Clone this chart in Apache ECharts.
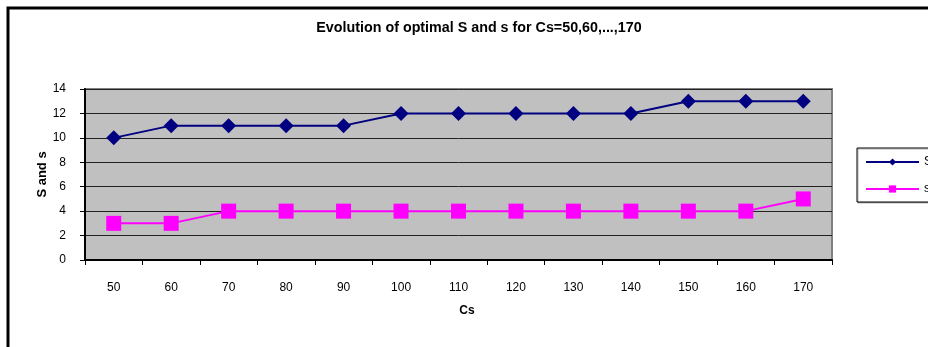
<!DOCTYPE html>
<html>
<head>
<meta charset="utf-8">
<script src="https://cdn.jsdelivr.net/npm/echarts@6/dist/echarts.min.js"></script>
<style>
  html, body { margin: 0; padding: 0; background: #fff; }
  #chart { width: 928px; height: 347px; }
</style>
</head>
<body>
<div id="chart"></div>
<script>
// Shipping cost values (Cs) and the optimal (s, S) policy levels
const categories = ['50', '60', '70', '80', '90', '100', '110', '120', '130', '140', '150', '160', '170'];
const bigS = [10, 11, 11, 11, 11, 12, 12, 12, 12, 12, 13, 13, 13];
const smallS = [3, 3, 4, 4, 4, 4, 4, 4, 4, 4, 4, 4, 5];

const font = '"Liberation Sans", Arial, sans-serif';
const chart = echarts.init(document.getElementById('chart'), null, { renderer: 'canvas' });

chart.setOption({
  animation: false,
  backgroundColor: '#ffffff',
  textStyle: { fontFamily: font },
  title: {
    text: 'Evolution of optimal S and s for Cs=50,60,...,170',
    left: 474,
    top: 16,
    textAlign: 'center',
    textStyle: { fontFamily: font, fontSize: 14.3, fontWeight: 'bold', color: '#000' }
  },
  graphic: [{
    type: 'rect',
    shape: { x: 8, y: 8, width: 1000, height: 1000 },
    style: { fill: 'none', stroke: '#000', lineWidth: 3 },
    z: 100
  }],
  legend: {
    orient: 'vertical',
    left: 857,
    top: 148,
    padding: [8, 40, 7, 8],
    itemWidth: 53,
    itemHeight: 9,
    itemGap: 15,
    backgroundColor: '#ffffff',
    borderColor: '#000',
    borderWidth: 1,
    shadowColor: 'rgba(0,0,0,0.3)',
    shadowOffsetX: 1,
    shadowOffsetY: 1,
    textStyle: { fontFamily: font, fontSize: 12, color: '#000' },
    data: ['S', 's']
  },
  grid: {
    left: 85,
    top: 89,
    right: 96,
    bottom: 87,
    show: true,
    backgroundColor: '#c0c0c0',
    borderColor: '#808080',
    borderWidth: 2
  },
  xAxis: {
    type: 'category',
    data: categories,
    boundaryGap: true,
    name: 'Cs',
    nameLocation: 'middle',
    nameGap: 45,
    nameMoveOverlap: false,
    nameTextStyle: { fontFamily: font, fontSize: 12, fontWeight: 'bold', color: '#000', padding: [0, 0, 0, 17] },
    axisLine: { lineStyle: { color: '#000', width: 2 } },
    axisTick: { show: true, length: 5, lineStyle: { color: '#000' } },
    axisLabel: { margin: 22, fontFamily: font, fontSize: 12, color: '#000' },
    splitLine: { show: false }
  },
  yAxis: {
    type: 'value',
    min: 0,
    max: 14,
    interval: 2,
    name: 'S and s',
    nameLocation: 'middle',
    nameGap: 36,
    nameMoveOverlap: false,
    nameTextStyle: { fontFamily: font, fontSize: 13, fontWeight: 'bold', color: '#000' },
    axisLine: { show: true, lineStyle: { color: '#000', width: 2 } },
    axisTick: { show: true, length: 5, lineStyle: { color: '#000' } },
    axisLabel: { margin: 19, fontFamily: font, fontSize: 12, color: '#000' },
    splitLine: { show: true, lineStyle: { color: '#222', width: 1 } }
  },
  series: [
    {
      name: 'S',
      type: 'line',
      data: bigS,
      symbol: 'diamond',
      symbolSize: 15,
      color: '#000080',
      lineStyle: { color: '#000080', width: 2 },
      itemStyle: { color: '#000080' },
      z: 3
    },
    {
      name: 's',
      type: 'line',
      data: smallS,
      symbol: 'rect',
      symbolSize: 15,
      color: '#ff00ff',
      lineStyle: { color: '#ff00ff', width: 2 },
      itemStyle: { color: '#ff00ff' },
      z: 3
    }
  ]
});
</script>
</body>
</html>
